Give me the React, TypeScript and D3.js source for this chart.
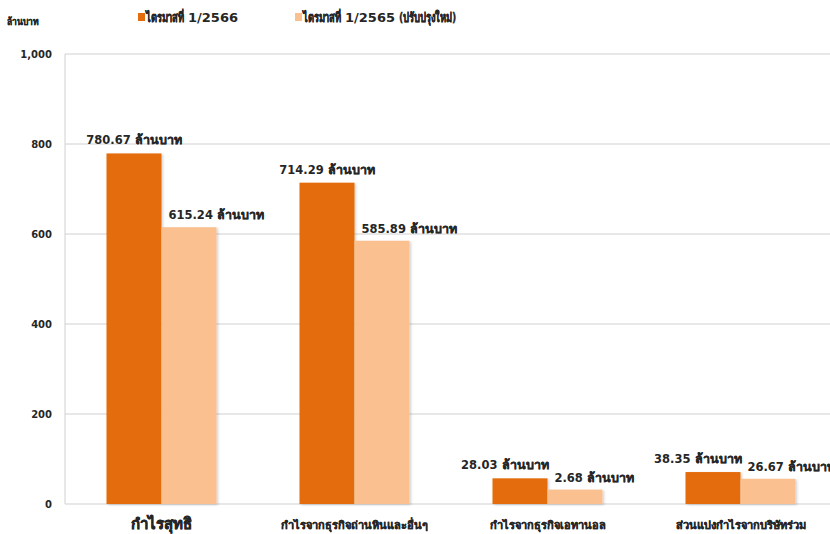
import { useEffect, useRef } from "react";
import * as d3 from "d3";

const W = 830;
const H = 534;

// categories on the x axis
const CATEGORIES = [
  "กำไรสุทธิ",
  "กำไรจากธุรกิจถ่านหินและอื่นๆ",
  "กำไรจากธุรกิจเอทานอล",
  "ส่วนแบ่งกำไรจากบริษัทร่วม",
];
// legend: [thai, number, thai]
const SERIES_NAMES = [
  ["ไตรมาสที่", "1/2566", ""],
  ["ไตรมาสที่", "1/2565", "(ปรับปรุงใหม่)"],
];
const COLORS = ["#E46C0A", "#FAC090"];

// bar heights as drawn in the picture (small bars are exaggerated there)
const BARS_2566 = [779, 714, 57, 71];
const BARS_2565 = [615, 585, 32, 56];
// data label texts
const LABELS_2566 = ["780.67", "714.29", "28.03", "38.35"];
const LABELS_2565 = ["615.24", "585.89", "2.68", "26.67"];
const UNIT = "ล้านบาท";

const Y_TICKS = [0, 200, 400, 600, 800, 1000];

const FONT = "Tahoma, 'DejaVu Sans', Verdana, sans-serif";
const INK = "#262626";

export default function App() {
  const svgRef = useRef<SVGSVGElement>(null);

  useEffect(() => {
    if (!svgRef.current) return;
    const svg = d3.select(svgRef.current);
    svg.selectAll("*").remove();

    const margin = { top: 54, bottom: 30, left: 65 };
    const bandW = 193;
    const barW = 55;

    const x = d3
      .scaleBand<string>()
      .domain(CATEGORIES)
      .range([margin.left, margin.left + bandW * CATEGORIES.length]);
    const y = d3.scaleLinear().domain([0, 1000]).range([H - margin.bottom, margin.top]);

    const defs = svg.append("defs");
    const f = defs.append("filter").attr("id", "shadow")
      .attr("x", "-10%").attr("y", "-10%").attr("width", "130%").attr("height", "130%");
    f.append("feDropShadow").attr("dx", 1.5).attr("dy", 1).attr("stdDeviation", 1)
      .attr("flood-color", "#000").attr("flood-opacity", 0.18);

    // grid
    svg.append("g").selectAll("line").data(Y_TICKS).join("line")
      .attr("x1", margin.left).attr("x2", W)
      .attr("y1", d => y(d)).attr("y2", d => y(d))
      .attr("stroke", "#d0d0d0");
    svg.append("line")
      .attr("x1", margin.left).attr("x2", margin.left)
      .attr("y1", y(1000)).attr("y2", y(0))
      .attr("stroke", "#d0d0d0");

    // y tick labels
    const fmt = d3.format(",");
    svg.append("g").selectAll("text").data(Y_TICKS).join("text")
      .attr("x", 52).attr("y", d => y(d)).attr("dy", "0.35em")
      .attr("text-anchor", "end")
      .attr("font-family", FONT).attr("font-size", 10).attr("font-weight", "bold")
      .attr("fill", INK)
      .text(d => fmt(d));

    // y axis title
    svg.append("text")
      .attr("transform", "translate(7,25) scale(0.85,1)")
      .attr("font-family", FONT).attr("font-size", 10).attr("font-weight", "bold")
      .attr("fill", INK).attr("stroke", INK).attr("stroke-width", 0.3)
      .text(UNIT);

    const series = [
      { bars: BARS_2566, labels: LABELS_2566, color: COLORS[0] },
      { bars: BARS_2565, labels: LABELS_2565, color: COLORS[1] },
    ];
    const barX = (si: number, i: number) =>
      (x(CATEGORIES[i]) ?? 0) + x.bandwidth() / 2 - barW + si * barW;

    // bars
    series.forEach((s, si) => {
      svg.append("g").selectAll("rect").data(s.bars).join("rect")
        .attr("x", (_, i) => barX(si, i))
        .attr("y", d => y(d))
        .attr("width", barW)
        .attr("height", d => y(0) - y(d))
        .attr("fill", s.color)
        .attr("filter", "url(#shadow)");
    });

    // data labels
    const addLabel = (num: string) => {
      const t = svg.append("text")
        .attr("font-family", FONT).attr("font-weight", "bold").attr("fill", INK);
      t.append("tspan").attr("font-size", 11.5).text(num + " ");
      t.append("tspan").attr("font-size", 12.5)
        .attr("stroke", INK).attr("stroke-width", 0.3).text(UNIT);
      return t;
    };

    CATEGORIES.forEach((_, i) => {
      // light series: starts just inside the bar
      const lx = barX(1, i) + 7;
      const lTop = y(series[1].bars[i]) - 8;
      addLabel(series[1].labels[i]).attr("x", lx).attr("y", lTop);
      // dark series: centred over its bar, pushed left if it runs into the other label
      const dt = addLabel(series[0].labels[i]);
      const w = (dt.node() as SVGTextElement).getComputedTextLength();
      let cx = barX(0, i) + barW / 2;
      const right = cx + w / 2;
      const dTop = y(series[0].bars[i]) - 9;
      if (dTop > lTop - 14 && right > lx - 6) cx -= right - (lx - 6);
      dt.attr("x", cx - w / 2).attr("y", dTop);
    });

    // category labels
    svg.append("g").selectAll("text").data(CATEGORIES).join("text")
      .attr("x", d => (x(d) ?? 0) + x.bandwidth() / 2)
      .attr("y", 529)
      .attr("text-anchor", "middle")
      .attr("font-family", FONT).attr("font-weight", "bold")
      .attr("font-size", (_, i) => (i === 0 ? 15 : 11))
      .attr("fill", INK).attr("stroke", INK)
      .attr("stroke-width", (_, i) => (i === 0 ? 0.5 : 0.3))
      .text(d => d);

    // legend (Thai words squeezed to the narrow width of the original font)
    const legendX = [138, 295];
    const squeeze = 0.72;
    SERIES_NAMES.forEach((parts, si) => {
      const g = svg.append("g").attr("transform", `translate(${legendX[si]},0)`);
      g.append("rect").attr("x", 0).attr("y", 13).attr("width", 7).attr("height", 8)
        .attr("fill", COLORS[si]);
      let cursor = 8;
      parts.forEach((p, pi) => {
        if (!p) return;
        const thai = pi !== 1;
        const t = g.append("text")
          .attr("font-family", FONT).attr("font-weight", "bold")
          .attr("font-size", 13).attr("fill", INK)
          .text(p);
        if (thai) t.attr("stroke", INK).attr("stroke-width", 0.35);
        const sx = thai ? squeeze : 1;
        t.attr("transform", `translate(${cursor},22) scale(${sx},1)`);
        const w = (t.node() as SVGTextElement).getComputedTextLength() * sx;
        cursor += w + 4;
      });
    });
  }, []);

  return (
    <svg
      ref={svgRef}
      width={W}
      height={H}
      style={{ position: "absolute", left: 0, top: 0, background: "#fff" }}
    />
  );
}
